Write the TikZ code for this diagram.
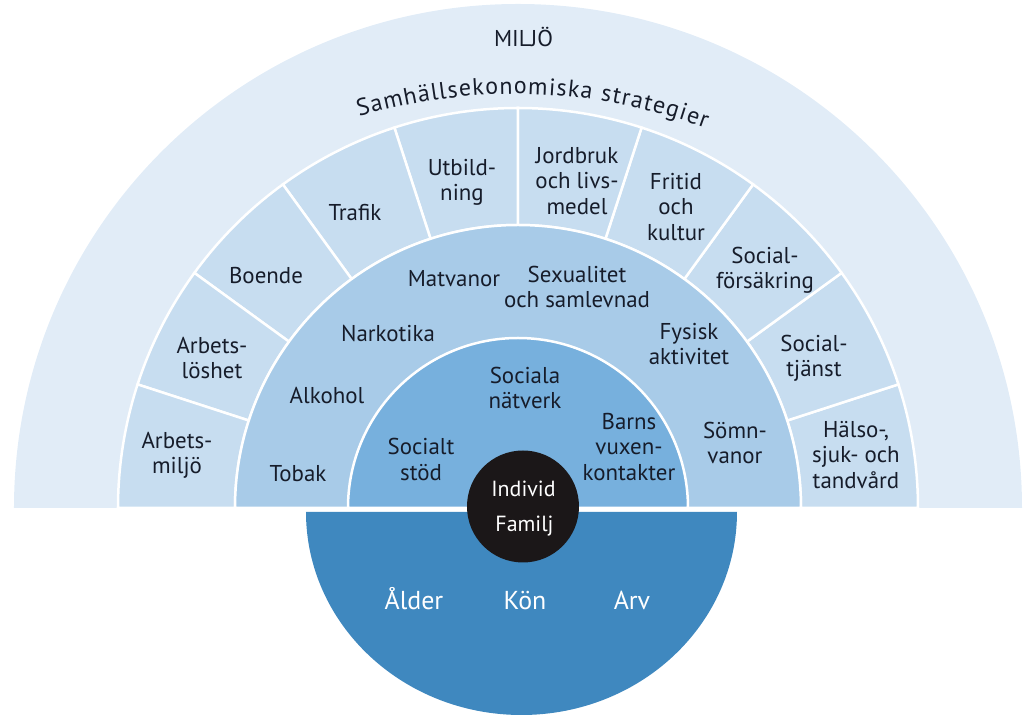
\documentclass[tikz,border=0pt]{standalone}
\usepackage{fontspec}
\setmainfont{PT Sans}
\usetikzlibrary{decorations.text}
\definecolor{cA}{HTML}{E1ECF7}
\definecolor{cB}{HTML}{C7DDF0}
\definecolor{cC}{HTML}{A8CBE8}
\definecolor{cD}{HTML}{77B0DD}
\definecolor{cE}{HTML}{3F88BF}
\definecolor{cK}{HTML}{1B1718}
\definecolor{txt}{HTML}{161C2A}
\newcommand{\arcfont}{\fontsize{24}{27}\selectfont\color{txt}}
\begin{document}
\begin{tikzpicture}[x=1bp,y=1bp,
  lab/.style={font=\fontsize{23}{25.5}\selectfont, text=txt, align=center, inner sep=0pt},
  wlab/.style={font=\fontsize{22}{25}\selectfont, text=white, inner sep=0pt, anchor=base},
  blab/.style={font=\fontsize{26}{30}\selectfont, text=white, inner sep=0pt, anchor=base},
  sep/.style={draw=white, line width=2.5bp}]
\useasboundingbox (-518,-215) rectangle (506,508);
% outer ring
\fill[cA] (504,0) arc[start angle=0, end angle=180, radius=504] -- cycle;
% policy sectors
\foreach \i in {0,...,9} {
  \pgfmathsetmacro\a{18*\i}
  \pgfmathsetmacro\b{18*\i+18}
  \filldraw[fill=cB, sep] (\a:283) -- (\a:400) arc[start angle=\a, end angle=\b, radius=400] -- (\b:283) arc[start angle=\b, end angle=\a, radius=283] -- cycle;
}
% lifestyle ring
\filldraw[fill=cC, sep] (283,0) arc[start angle=0, end angle=180, radius=283] -- cycle;
% social ring
\filldraw[fill=cD, sep] (170,0) arc[start angle=0, end angle=180, radius=170] -- cycle;
% bottom blue
\fill[cE] (-212,-4) arc[start angle=180, end angle=360, x radius=215.5, y radius=203] -- cycle;
% centre
\fill[cK] (5,1.5) circle[radius=56];

% arc text
\path[decorate, decoration={text along path, text align={fit to path},
  text={|\arcfont|Samhällsekonomiska strategier}}]
  (-3,-132) ++(106.6:546) arc[start angle=106.6, end angle=69.6, radius=546];

\node[lab, anchor=base] (miljo) at (5.5,461) {MILJÖ};

% ring 2
\node[lab] (arbmil) at (-341,53) {Arbets-\\miljö};
\node[lab] (arblos) at (-306,150) {Arbets-\\löshet};
\node[lab, anchor=base] (boende) at (-252,224.7) {Boende};
\node[lab, anchor=base] (trafik) at (-163,287.3) {Trafik};
\node[lab] (utb) at (-56,325.5) {Utbild-\\ning};
\node[lab] (jord) at (59,327) {Jordbruk\\och livs-\\medel};
\node[lab] (fritid) at (158,301) {Fritid\\och\\kultur};
\node[lab] (sfors) at (247,238) {Social-\\försäkring};
\node[lab] (stj) at (296,150) {Social-\\tjänst};
\node[lab] (halso) at (338,53) {Hälso-,\\sjuk- och\\tandvård};

% ring 3
\node[lab, anchor=base] (tobak) at (-220,26) {Tobak};
\node[lab, anchor=base] (alk) at (-191,104) {Alkohol};
\node[lab, anchor=base] (nark) at (-130,166) {Narkotika};
\node[lab, anchor=base] (mat) at (-64,221) {Matvanor};
\node[lab] (sex) at (59,221) {Sexualitet\\och samlevnad};
\node[lab] (fys) at (171,164) {Fysisk\\aktivitet};
\node[lab] (somn) at (217,65) {Sömn-\\vanor};

% ring 4
\node[lab] (sstod) at (-97,48.5) {Socialt\\stöd};
\node[lab] (snat) at (7,120) {Sociala\\nätverk};
\node[lab] (barn) at (111,61) {Barns\\vuxen-\\kontakter};

% centre
\node[wlab] (individ) at (5.5,11) {Individ};
\node[wlab] (familj) at (6.5,-24) {Familj};
\node[blab] (alder) at (-104,-102) {Ålder};
\node[blab] (kon) at (7,-102) {Kön};
\node[blab] (arv) at (114,-102) {Arv};
\end{tikzpicture}
\end{document}
